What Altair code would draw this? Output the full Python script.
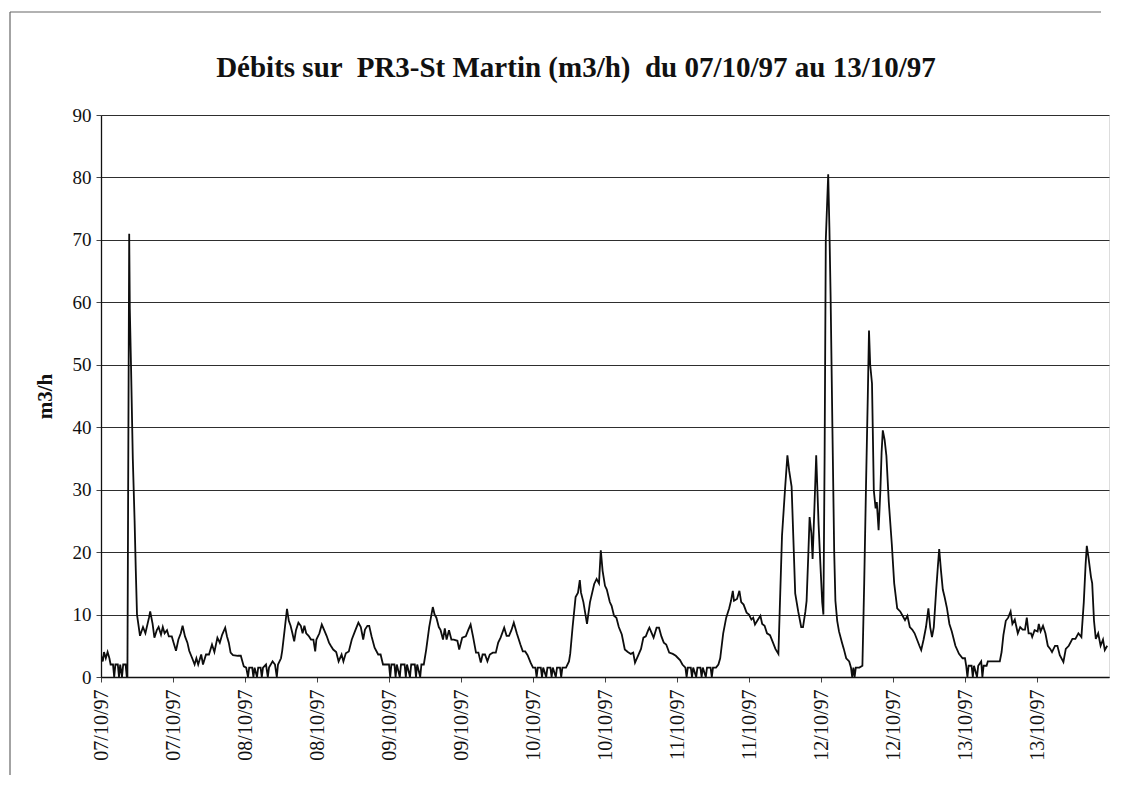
import json
import altair as alt
import pandas as pd

# Hours since 07/10/97 00:00 and flow (m3/h)
hours = [
    0.0, 0.3, 0.5, 0.8, 1.1, 1.4, 1.6, 2.0, 2.2, 2.4, 2.8, 3.0, 3.2, 3.5, 3.7, 4.1, 4.3, 4.4,
    4.7, 4.8, 5.0, 5.3, 5.6, 5.8, 6.0, 6.5, 7.0, 7.4, 8.0, 8.2, 8.6, 8.9, 9.3, 9.6, 10.0,
    10.3, 10.6, 11.0, 11.3, 11.8, 12.1, 12.5, 12.9, 13.3, 13.6, 14.0, 14.4, 14.7, 15.2, 15.6,
    15.9, 16.2, 16.7, 17.0, 17.5, 18.0, 18.5, 18.9, 19.4, 19.8, 20.2, 20.7, 21.0, 21.3, 21.6,
    22.0, 22.8, 23.3, 23.8, 24.2, 24.5, 24.7, 25.2, 25.4, 25.6, 26.0, 26.2, 26.6, 26.8, 27.0,
    27.5, 27.8, 28.0, 28.6, 29.0, 29.3, 29.5, 30.0, 30.2, 30.6, 31.0, 31.3, 31.6, 31.9, 32.2,
    32.5, 32.9, 33.3, 33.6, 33.9, 34.2, 34.6, 35.0, 35.4, 35.7, 35.9, 36.4, 36.8, 37.2, 37.6,
    38.0, 38.3, 38.7, 39.2, 39.6, 40.1, 40.4, 40.8, 41.3, 41.8, 42.4, 42.9, 43.3, 43.7, 44.0,
    44.4, 44.7, 45.1, 45.6, 46.2, 46.6, 47.0, 47.5, 48.0, 48.2, 48.4, 48.9, 49.1, 49.3, 49.8,
    50.0, 50.6, 50.8, 51.0, 51.5, 51.7, 52.3, 52.5, 52.7, 53.2, 53.4, 53.8, 54.2, 54.7, 55.3,
    55.6, 55.9, 56.3, 56.6, 57.0, 57.3, 57.6, 58.0, 58.4, 58.8, 59.4, 59.7, 60.2, 60.8, 61.2,
    61.6, 62.0, 62.5, 62.9, 63.3, 63.6, 64.0, 64.4, 64.8, 65.3, 65.8, 66.2, 66.6, 67.2, 67.6,
    68.0, 68.4, 68.8, 69.3, 69.9, 70.3, 70.7, 71.1, 71.6, 72.0, 72.4, 72.6, 72.8, 73.3, 73.5,
    73.7, 74.2, 74.4, 74.9, 75.1, 75.3, 75.8, 76.0, 76.5, 76.7, 76.9, 77.5, 78.0, 78.2, 78.6,
    79.1, 79.5, 79.8, 80.0, 80.4, 81.0, 81.5, 82.2, 82.6, 83.0, 83.3, 83.6, 84.0, 84.3, 84.8,
    85.1, 85.5, 85.9, 86.3, 86.8, 87.3, 87.8, 88.3, 88.7, 89.0, 89.5, 90.0, 90.4, 90.8, 91.2,
    91.4, 91.8, 92.1, 92.6, 93.0, 93.4, 93.8, 94.2, 94.7, 95.3, 95.8, 96.5, 96.9, 97.4, 97.6,
    97.8, 98.3, 98.5, 98.7, 99.2, 99.4, 99.9, 100.1, 100.3, 100.8, 101.0, 101.6, 101.8, 102.0,
    102.5, 102.9, 103.2, 103.7, 104.2, 104.7, 105.0, 105.3, 105.5, 106.0, 106.4, 106.7, 107.1,
    107.6, 108.0, 108.4, 108.7, 109.0, 109.5, 109.9, 110.2, 110.6, 111.0, 111.5, 112.0, 112.4,
    112.9, 113.1, 113.5, 114.0, 114.4, 114.7, 115.1, 115.4, 115.7, 116.2, 116.7, 117.0, 117.4,
    117.6, 117.9, 118.1, 118.4, 118.6, 118.9, 119.2, 119.4, 119.6, 119.9, 120.2, 120.4, 120.6,
    120.8, 121.2, 121.4, 121.6, 121.9, 122.2, 122.4, 122.7, 123.0, 123.5, 123.8, 124.2, 124.7,
    125.0, 125.2, 125.4, 125.6, 125.8, 126.4, 126.9, 127.2, 127.5, 127.8, 128.0, 128.2, 128.5,
    128.8, 129.1, 129.3, 129.6, 129.9, 130.1, 130.3, 130.6, 130.9, 131.3, 131.8, 132.2, 132.7,
    133.2, 133.6, 134.0, 134.4, 134.8, 135.2, 135.6, 136.0, 136.4, 136.7, 137.1, 137.5, 137.9,
    138.2, 138.5, 138.8, 139.2, 139.5, 139.7, 140.0, 140.3, 140.6, 141.0, 141.4, 141.8, 142.4,
    143.0, 143.6, 144.0, 144.2, 144.4, 144.6, 145.1, 145.3, 145.5, 146.0, 146.2, 146.7, 146.9,
    147.1, 147.6, 147.8, 148.3, 148.8, 149.3, 149.8, 150.1, 150.4, 150.8, 151.2, 151.6, 151.9,
    152.3, 152.8, 153.2, 153.6, 154.0, 154.3, 154.6, 155.0, 155.2, 155.6, 156.1, 156.3, 156.6,
    157.0, 157.4, 157.8, 158.2, 158.5, 159.0, 159.4, 159.8, 160.4, 160.8, 161.3, 161.9, 162.4,
    162.9, 163.4, 163.8, 164.1, 164.3, 164.6, 165.0, 165.2, 165.5, 165.8, 166.2, 166.6, 167.0,
    167.3, 167.7,
]
flow = [
    3.5, 2.5, 4.0, 3.0, 4.0, 3.0, 2.0, 2.0, 0.0, 2.0, 2.0, 0.0, 2.0, 0.0, 2.0, 2.0, 0.0, 0.0,
    71.0, 59.0, 50.0, 35.0, 25.0, 17.0, 10.0, 6.6, 8.0, 7.0, 9.5, 10.5, 8.5, 6.3, 7.5, 8.0, 6.8,
    8.0, 7.0, 7.5, 6.5, 6.5, 5.5, 4.2, 6.0, 7.0, 8.2, 6.5, 5.5, 4.2, 3.0, 2.0,
    3.0, 2.0, 3.6, 2.0, 3.6, 3.6, 5.2, 4.0, 6.3, 5.5, 6.8, 7.9, 6.5, 5.5, 3.9,
    3.5, 3.4, 3.4, 1.7, 1.5, 0.0, 1.5, 1.5, 0.0, 1.5, 0.0, 1.5, 1.5, 0.0, 1.5,
    2.0, 0.0, 1.5, 2.5, 2.0, 0.0, 2.0, 3.0, 4.2, 7.5, 10.9, 9.0, 8.2, 7.0, 5.7,
    7.5, 8.7, 8.2, 7.0, 8.2, 7.0, 6.6, 6.0, 6.0, 4.1, 6.0, 7.0, 8.4, 7.5, 6.6,
    5.5, 5.0, 4.4, 4.0, 2.5, 3.6, 2.5, 3.8, 4.1, 6.0, 7.5, 8.7, 8.0, 6.0, 7.6,
    8.2, 8.2, 6.5, 4.7, 3.6, 3.6, 2.0, 2.0, 2.0, 0.0, 2.0, 2.0, 0.0, 2.0, 0.0,
    2.0, 2.0, 0.0, 2.0, 0.0, 2.0, 2.0, 0.0, 2.0, 0.0, 2.0, 2.0, 4.4, 8.0, 11.2,
    10.0, 9.5, 8.0, 7.5, 6.0, 7.8, 6.0, 7.5, 6.0, 6.0, 5.8, 4.4, 6.3, 6.5, 7.5,
    8.4, 6.5, 3.9, 3.9, 2.3, 3.6, 3.6, 2.5, 3.6, 3.9, 3.9, 5.5, 6.3, 7.9, 6.6,
    6.6, 7.5, 8.7, 7.0, 5.2, 4.1, 4.1, 3.5, 2.3, 1.5, 1.5, 0.0, 1.5, 1.5, 0.0,
    1.5, 0.0, 1.5, 1.5, 0.0, 1.5, 0.0, 1.5, 1.5, 0.0, 1.5, 1.5, 2.5, 3.7, 8.0,
    12.8, 13.5, 15.5, 13.5, 12.0, 8.5, 12.0, 14.9, 15.7, 15.0, 20.3, 17.0, 14.6, 14.0, 12.0,
    11.4, 9.8, 9.5, 8.0, 6.8, 4.4, 4.0, 3.7, 3.9, 2.3, 3.4, 4.5, 6.3, 6.5, 7.5,
    7.9, 7.0, 6.3, 7.9, 7.9, 6.5, 5.5, 5.2, 3.9, 3.7, 3.4, 2.7, 2.0, 1.5, 0.0,
    1.5, 1.5, 0.0, 1.5, 0.0, 1.5, 1.5, 0.0, 1.5, 0.0, 1.5, 1.5, 0.0, 1.5,
    1.5, 2.0, 3.0, 7.0, 9.5, 11.0, 12.2, 13.8, 12.2, 12.5, 13.8, 12.0, 11.6,
    10.3, 10.0, 9.2, 9.5, 8.4, 9.2, 9.8, 8.5, 8.2, 7.0, 6.7, 5.5, 4.5,
    3.7, 10.0, 22.6, 30.0, 35.5, 33.0, 30.5, 22.0, 13.4, 10.5, 8.0, 8.0, 10.5,
    12.2, 20.0, 25.6, 23.0, 18.9, 27.0, 35.5, 30.0, 24.4, 18.0, 12.0, 10.0, 35.0,
    70.0, 80.5, 72.0, 61.0, 40.0, 20.0, 12.2, 9.0, 7.3, 5.5, 4.5, 3.0, 2.5,
    1.5, 0.0, 1.5, 0.0, 1.5, 1.5, 1.8, 15.0, 30.5, 45.0, 55.5, 50.0, 47.0,
    29.9, 27.0, 28.0, 23.5, 30.0, 36.0, 39.5, 38.0, 35.4, 28.0, 21.3, 15.0, 11.0,
    10.5, 9.8, 9.1, 9.8, 8.0, 7.6, 7.0, 6.0, 5.0, 4.3, 6.0, 8.0, 11.0,
    8.0, 6.4, 8.0, 14.0, 18.0, 20.5, 17.0, 14.0, 12.8, 11.0, 8.5, 7.3, 5.0,
    3.7, 3.0, 3.0, 1.8, 0.0, 1.8, 1.8, 0.0, 1.8, 0.0, 1.8, 2.5, 0.0,
    1.8, 1.8, 2.5, 2.5, 2.5, 2.5, 2.5, 4.0, 6.7, 9.0, 9.5, 10.5, 8.5,
    9.2, 7.0, 8.0, 7.6, 7.6, 9.5, 7.0, 7.0, 6.4, 7.5, 7.3, 8.5, 7.3,
    8.2, 7.0, 5.0, 4.5, 4.0, 5.0, 5.0, 3.5, 2.4, 4.5, 5.0, 6.1, 6.1,
    7.0, 6.4, 12.0, 18.0, 21.0, 19.0, 16.0, 15.0, 9.0, 6.1, 7.0, 5.0, 6.0,
    4.3, 5.0,
]

tick_hours = [0, 12, 24, 36, 48, 60, 72, 84, 96, 108, 120, 132, 144, 156]
tick_labels = ["07/10/97", "07/10/97", "08/10/97", "08/10/97", "09/10/97", "09/10/97",
               "10/10/97", "10/10/97", "11/10/97", "11/10/97", "12/10/97", "12/10/97",
               "13/10/97", "13/10/97"]
y_ticks = [0, 10, 20, 30, 40, 50, 60, 70, 80, 90]

title_text = "Débits sur \u00a0PR3-St Martin (m3/h) \u00a0du 07/10/97 au 13/10/97"

df = pd.DataFrame({"h": hours, "q": flow})

W, H = 1008, 562
SERIF = "Liberation Serif"
label_expr = json.dumps(tick_labels) + "[round(datum.value / 12)]"

line = alt.Chart(df).mark_line(color="#0d0d0d", strokeWidth=1.8, clip=True).encode(
    x=alt.X(
        "h:Q",
        scale=alt.Scale(domain=[0, 168], nice=False, zero=False),
        axis=alt.Axis(
            values=tick_hours, labelExpr=label_expr, labelAngle=270,
            labelAlign="right", labelBaseline="middle", labelPadding=7,
            labelFont=SERIF, labelFontSize=20, labelColor="#111111",
            labelOverlap=False, tickSize=5, tickColor="#444444",
            domainColor="#111111", domainWidth=1.3, grid=False, title=None,
        ),
    ),
    y=alt.Y(
        "q:Q",
        scale=alt.Scale(domain=[0, 90], nice=False),
        axis=alt.Axis(
            values=y_ticks, title="m3/h", titleFont=SERIF, titleFontSize=21,
            titleFontWeight="bold", titleColor="#111111", titleAngle=270,
            titleX=-56, titleY=H / 2, titleAlign="center", titleBaseline="middle",
            labelFont=SERIF, labelFontSize=19, labelColor="#111111", labelPadding=5,
            tickSize=5, tickColor="#444444", domainColor="#111111", domainWidth=1.3,
            grid=True, gridColor="#2e2e2e", gridWidth=1,
        ),
    ),
)

# Title, drawn as a text mark above the plot area
title = alt.Chart(pd.DataFrame({"t": [title_text]})).mark_text(
    font=SERIF, fontSize=29, fontWeight="bold", color="#111111",
    align="center", baseline="alphabetic",
).encode(text="t:N", x=alt.value(475), y=alt.value(-38))

# Outer chart-area frame (top and left edges, as in the scan)
frame_top = alt.Chart(pd.DataFrame({"k": [0]})).mark_rule(
    color="#666666", strokeWidth=1.2
).encode(x=alt.value(-91), x2=alt.value(1000), y=alt.value(-103))
frame_left = alt.Chart(pd.DataFrame({"k": [0]})).mark_rule(
    color="#666666", strokeWidth=1.2
).encode(x=alt.value(-91), y=alt.value(-103), y2=alt.value(662))

chart = alt.layer(frame_top, frame_left, line, title).properties(
    width=W,
    height=H,
    autosize=alt.AutoSizeParams(type="none"),
    padding={"left": 93, "top": 107, "right": 5, "bottom": 98},
).configure_view(stroke="#666666", strokeWidth=1).configure(background="white")

chart.save("out.html", embed_options={"renderer": "svg", "actions": False})
